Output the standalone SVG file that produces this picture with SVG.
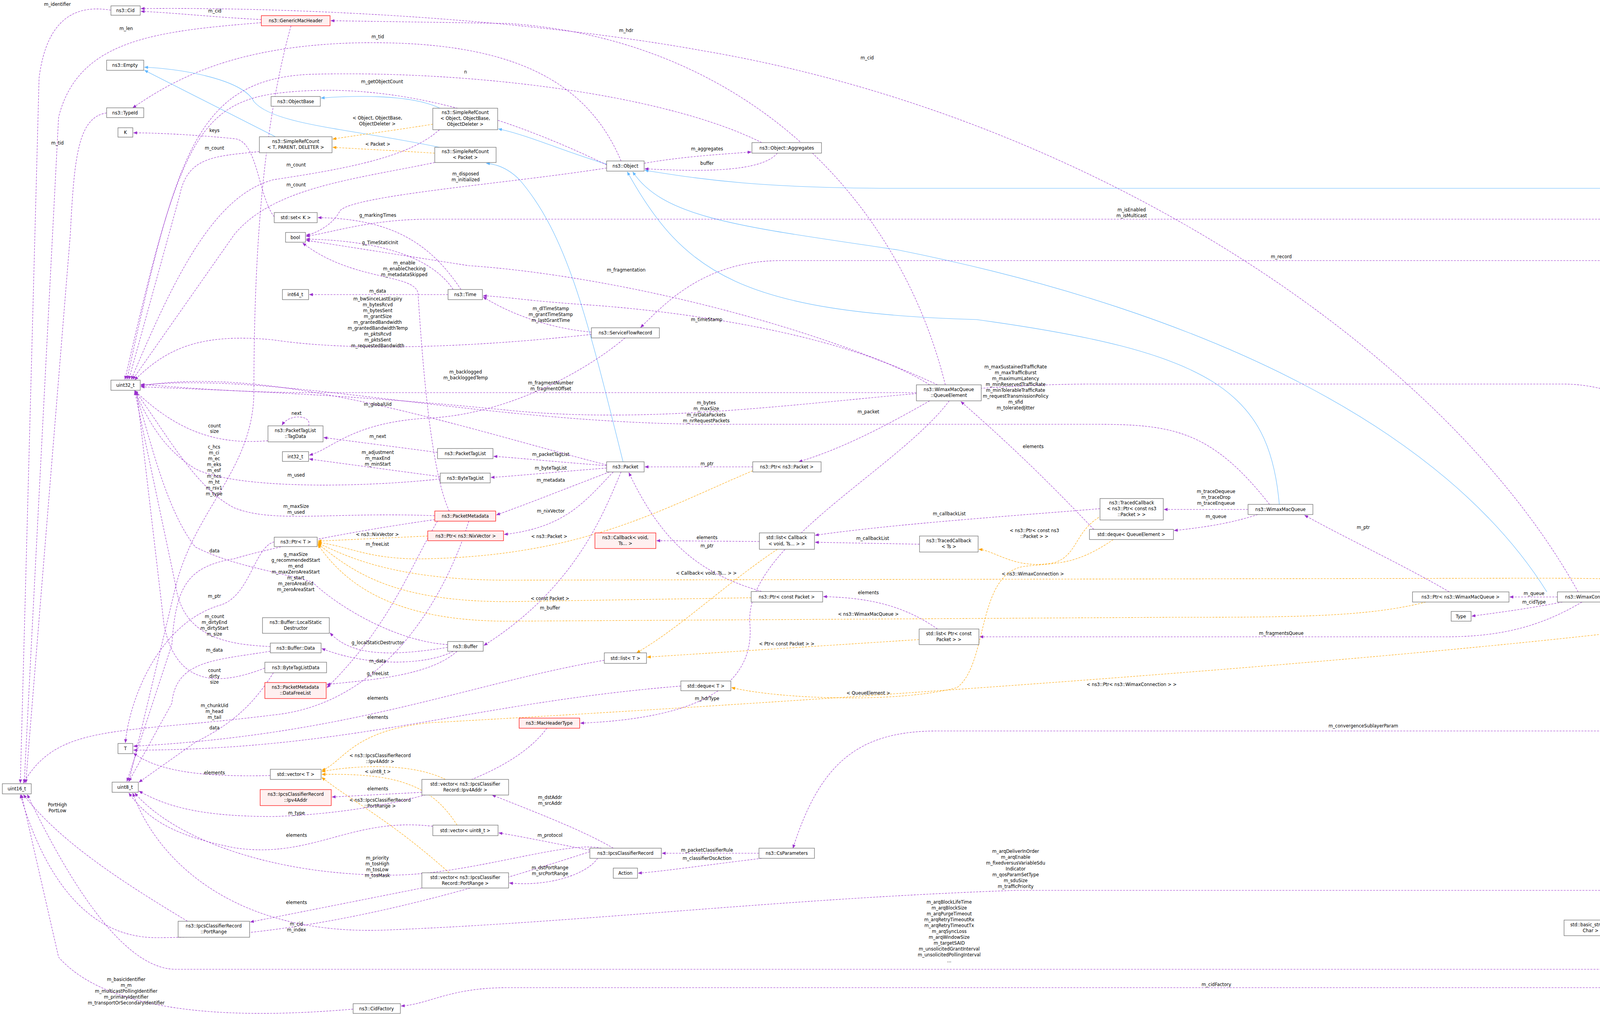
<svg xmlns="http://www.w3.org/2000/svg" width="5315" height="2598" viewBox="0 0 5315 2598">
<style>
text{font-family:"DejaVu Sans","Liberation Sans",sans-serif;font-size:11.5px;fill:#000;text-anchor:middle}
.n rect{fill:#fff;stroke:#666;stroke-width:1.2}
.r rect{fill:#fff0f0;stroke:#f00;stroke-width:1.2}
.g rect{fill:#999;stroke:#666;stroke-width:1.2}
.e{fill:none;stroke:#9a32cd;stroke-width:1.1;stroke-dasharray:5,3;marker-end:url(#mp)}
.i{fill:none;stroke:#63b8ff;stroke-width:1.1;marker-end:url(#mb)}
.t{fill:none;stroke:#ffa500;stroke-width:1.1;stroke-dasharray:5,3;marker-end:url(#mo)}
</style>
<defs>
<marker id="mp" markerWidth="10" markerHeight="8" refX="9" refY="4" orient="auto" markerUnits="userSpaceOnUse"><path d="M0,0L10,4L0,8z" fill="#9a32cd"/></marker>
<marker id="mb" markerWidth="10" markerHeight="8" refX="9" refY="4" orient="auto" markerUnits="userSpaceOnUse"><path d="M0,0L10,4L0,8z" fill="#63b8ff"/></marker>
<marker id="mo" markerWidth="10" markerHeight="8" refX="9" refY="4" orient="auto" markerUnits="userSpaceOnUse"><path d="M0,0L10,4L0,8z" fill="#ffa500"/></marker>
</defs>
<rect width="5315" height="2598" fill="#fff"/>
<g id="edges">
<path class="e" d="M669,50 C560,45 450,33 361,29"/><text x="550" y="32">m_cid</text>
<path class="e" d="M4040,1515 C3700,900 2800,300 1800,130 C1300,40 700,18 361,22"/><text x="2220" y="152">m_cid</text>
<path class="e" d="M2420,985 C2300,500 1900,100 1300,60 L847,53"/><text x="1603" y="82">m_hdr</text>
<path class="e" d="M284,26 C200,12 120,40 100,200 L52,2004"/><text x="147" y="15">m_identifier</text>
<path class="e" d="M669,58 C400,80 200,100 150,300 L62,2004"/><text x="323" y="77">m_len</text>
<path class="e" d="M745,66 C680,300 650,600 650,1000 C650,1200 500,1300 450,1500 L330,2000"/>
<text><tspan x="548" y="1148">c_hcs</tspan><tspan x="548" y="1163">m_ci</tspan><tspan x="548" y="1178">m_ec</tspan><tspan x="548" y="1193">m_eks</tspan><tspan x="548" y="1208">m_esf</tspan><tspan x="548" y="1223">m_hcs</tspan><tspan x="548" y="1238">m_ht</tspan><tspan x="548" y="1253">m_rsv1</tspan><tspan x="548" y="1268">m_type</tspan></text>
<path class="e" d="M1590,412 C1500,200 1300,100 900,110 C600,120 450,200 340,276"/><text x="967" y="98">m_tid</text>
<path class="e" d="M273,289 C200,300 190,400 180,600 L66,2004"/><text x="147" y="370">m_tid</text>
<path class="i" d="M705,350 L370,180"/>
<path class="i" d="M1125,377 C900,330 700,320 650,260 C620,200 450,175 370,172"/>
<path class="i" d="M1126,277 C1050,240 900,245 822,251"/>
<path class="i" d="M1553,420 C1450,390 1350,345 1276,330"/>
<path class="i" d="M1595,1182 C1500,800 1450,600 1330,460 C1300,430 1270,420 1245,418"/>
<path class="i" d="M4850,1611 C4840,900 4760,482 4500,482 L2300,482 C1950,482 1800,460 1651,436"/>
<path class="i" d="M3960,1515 C3700,1100 3100,800 2300,640 C1900,580 1700,560 1620,440"/>
<path class="i" d="M3275,1291 C3250,1000 3100,900 2500,818 C1900,800 1750,700 1606,440"/>
<path class="e" d="M1649,418 C1750,400 1850,395 1923,389"/><text x="1810" y="385">m_aggregates</text>
<path class="e" d="M1990,392 C1950,440 1800,440 1651,432"/><text x="1810" y="422">buffer</text>
<path class="t" d="M1108,318 C1000,335 900,348 852,356"/><text><tspan x="966" y="306">&lt; Object, ObjectBase,</tspan><tspan x="966" y="321">ObjectDeleter &gt;</tspan></text>
<path class="t" d="M1113,392 C1000,385 900,380 852,377"/><text x="967" y="373">&lt; Packet &gt;</text>
<path class="e" d="M664,388 C550,400 480,400 460,500 L330,971"/><text x="549" y="383">m_count</text>
<path class="e" d="M1125,332 C1050,400 900,430 700,460 C550,500 450,700 336,971"/><text x="758" y="426">m_count</text>
<path class="e" d="M1113,416 C900,460 700,480 600,600 L340,971"/><text x="758" y="477">m_count</text>
<path class="e" d="M1553,422 C1300,300 1000,200 700,240 C500,270 450,400 320,971"/><text x="978" y="213">m_getObjectCount</text>
<path class="e" d="M1950,365 C1700,240 1200,180 800,190 C500,200 450,400 325,971"/><text x="1192" y="188">n</text>
<path class="e" d="M702,555 C660,500 660,360 600,355 C500,345 400,340 342,340"/><text x="549" y="338">keys</text>
<path class="e" d="M1180,741 C1100,620 1000,560 814,557"/><text x="967" y="555">g_markingTimes</text>
<path class="e" d="M1160,741 C1100,650 950,615 784,612"/><text x="973" y="625">g_TimeStaticInit</text>
<path class="e" d="M1553,430 C1300,470 900,500 870,540 C850,580 800,600 784,602"/><text><tspan x="1192" y="449">m_disposed</tspan><tspan x="1192" y="464">m_initialized</tspan></text>
<path class="e" d="M4770,1611 C4650,900 4600,561 4400,561 L1100,561 C950,561 850,595 784,605"/><text><tspan x="2897" y="541">m_isEnabled</tspan><tspan x="2897" y="556">m_isMulticast</tspan></text>
<path class="e" d="M1150,1308 C1100,1200 1080,900 1070,750 C1060,700 900,720 775,622"/><text><tspan x="1035" y="677">m_enable</tspan><tspan x="1035" y="692">m_enableChecking</tspan><tspan x="1035" y="707">m_metadataSkipped</tspan></text>
<path class="e" d="M1147,754 L792,754"/><text x="967" y="749">m_data</text>
<path class="e" d="M1514,850 C1400,840 1300,800 1237,760"/><text><tspan x="1410" y="794">m_dlTimeStamp</tspan><tspan x="1410" y="809">m_grantTimeStamp</tspan><tspan x="1410" y="824">m_lastGrantTime</tspan></text>
<path class="e" d="M2380,985 C2200,870 1800,800 1500,780 C1350,770 1300,760 1237,757"/><text x="1809" y="822">m_timeStamp</text>
<path class="e" d="M1514,856 C1200,890 900,900 700,870 C500,850 420,900 345,972"/><text><tspan x="967" y="769">m_bwSinceLastExpiry</tspan><tspan x="967" y="784">m_bytesRcvd</tspan><tspan x="967" y="799">m_bytesSent</tspan><tspan x="967" y="814">m_grantSize</tspan><tspan x="967" y="829">m_grantedBandwidth</tspan><tspan x="967" y="844">m_grantedBandwidthTemp</tspan><tspan x="967" y="859">m_pktsRcvd</tspan><tspan x="967" y="874">m_pktsSent</tspan><tspan x="967" y="889">m_requestedBandwidth</tspan></text>
<path class="e" d="M4800,1611 C4700,1000 4650,667 4300,667 L2000,667 C1800,667 1700,780 1640,838"/><text x="3280" y="661">m_record</text>
<path class="e" d="M2400,985 C2000,800 1500,700 1200,680 L784,615"/><text x="1603" y="695">m_fragmentation</text>
<path class="e" d="M2346,1005 L800,1005 C600,1005 450,990 361,984"/><text><tspan x="1410" y="984">m_fragmentNumber</tspan><tspan x="1410" y="999">m_fragmentOffset</tspan></text>
<path class="e" d="M3250,1291 C3100,1100 3000,1086 2800,1086 L1800,1086 C1200,1080 700,950 361,986"/><text><tspan x="1808" y="1035">m_bytes</tspan><tspan x="1808" y="1050">m_maxSize</tspan><tspan x="1808" y="1066">m_nrDataPackets</tspan><tspan x="1808" y="1081">m_nrRequestPackets</tspan></text>
<path class="e" d="M4760,1611 C4500,1300 4300,983 4000,983 L2800,983 C2300,983 1800,1100 1300,1050 C900,1010 600,1000 361,990"/><text><tspan x="2600" y="943">m_maxSustainedTrafficRate</tspan><tspan x="2600" y="958">m_maxTrafficBurst</tspan><tspan x="2600" y="973">m_maximumLatency</tspan><tspan x="2600" y="988">m_minReservedTrafficRate</tspan><tspan x="2600" y="1003">m_minTolerableTrafficRate</tspan><tspan x="2600" y="1018">m_requestTransmissionPolicy</tspan><tspan x="2600" y="1033">m_sfid</tspan><tspan x="2600" y="1048">m_toleratedJitter</tspan></text>
<path class="e" d="M1600,865 C1500,950 1300,1060 1100,1070 C900,1080 850,1150 792,1165"/><text><tspan x="1192" y="956">m_backlogged</tspan><tspan x="1192" y="971">m_backloggedTemp</tspan></text>
<path class="e" d="M686,1128 C550,1140 450,1100 345,1000"/><text><tspan x="549" y="1094">count</tspan><tspan x="549" y="1108">size</tspan></text>
<path class="e" d="M790,1090 C800,1062 740,1058 722,1088"/><text x="759" y="1062">next</text>
<path class="e" d="M1120,1158 L829,1120"/><text x="967" y="1121">m_next</text>
<path class="e" d="M1127,1220 L792,1175"/><text><tspan x="967" y="1162">m_adjustment</tspan><tspan x="967" y="1177">m_maxEnd</tspan><tspan x="967" y="1192">m_minStart</tspan></text>
<path class="e" d="M1127,1226 C900,1250 600,1250 500,1200 C420,1150 380,1080 345,1000"/><text x="758" y="1220">m_used</text>
<path class="e" d="M1553,1190 C1200,1100 700,930 361,988"/><text x="967" y="1039">m_globalUid</text>
<path class="e" d="M1553,1192 C1400,1180 1300,1170 1264,1168"/><text x="1410" y="1167">m_packetTagList</text>
<path class="e" d="M1553,1198 C1400,1210 1300,1220 1257,1222"/><text x="1410" y="1202">m_byteTagList</text>
<path class="e" d="M1560,1208 C1450,1250 1350,1290 1271,1318"/><text x="1410" y="1233">m_metadata</text>
<path class="e" d="M1570,1208 C1500,1280 1450,1350 1291,1368"/><text x="1410" y="1312">m_nixVector</text>
<path class="e" d="M1590,1208 C1550,1300 1480,1500 1239,1652"/><text x="1408" y="1560">m_buffer</text>
<path class="e" d="M1927,1195 L1651,1195"/><text x="1810" y="1191">m_ptr</text>
<path class="e" d="M2380,1026 C2250,1100 2150,1150 2045,1182"/><text x="2223" y="1058">m_packet</text>
<path class="e" d="M1950,1514 C1800,1470 1700,1400 1610,1210"/><text x="1810" y="1401">m_ptr</text>
<path class="e" d="M1113,1320 C850,1310 700,1340 600,1300 C500,1250 420,1100 345,1000"/><text><tspan x="758" y="1300">m_maxSize</tspan><tspan x="758" y="1315">m_used</tspan></text>
<path class="t" d="M1095,1372 L814,1385"/><text x="966" y="1372">&lt; ns3::NixVector &gt;</text>
<path class="t" d="M1927,1205 C1700,1300 1500,1420 1100,1430 C950,1435 900,1400 814,1388"/><text x="1406" y="1377">&lt; ns3::Packet &gt;</text>
<path class="t" d="M1923,1530 L1300,1540 C1000,1540 900,1460 814,1392"/><text x="1408" y="1536">&lt; const Packet &gt;</text>
<path class="t" d="M3650,1541 C3500,1580 3300,1580 3000,1580 L1300,1590 C1000,1590 880,1490 814,1394"/><text x="2223" y="1576">&lt; ns3::WimaxMacQueue &gt;</text>
<path class="t" d="M4320,1504 C4250,1480 4100,1480 3900,1480 L1300,1485 C1000,1485 880,1420 814,1390"/><text x="2644" y="1473">&lt; ns3::WimaxConnection &gt;</text>
<path class="e" d="M1120,1334 C1050,1450 1000,1600 837,1760"/><text x="966" y="1397">m_freeList</text>
<path class="e" d="M1146,1650 C1000,1640 850,1540 800,1490 C700,1460 600,1450 500,1400 C420,1300 380,1100 345,1000"/><text><tspan x="757" y="1423">g_maxSize</tspan><tspan x="757" y="1438">g_recommendedStart</tspan><tspan x="757" y="1453">m_end</tspan><tspan x="757" y="1468">m_maxZeroAreaStart</tspan><tspan x="757" y="1483">m_start</tspan><tspan x="757" y="1498">m_zeroAreaEnd</tspan><tspan x="757" y="1513">m_zeroAreaStart</tspan></text>
<path class="e" d="M702,1387 C650,1400 640,1530 560,1550 C400,1600 330,1800 321,1901"/><text x="549" y="1530">m_ptr</text>
<path class="e" d="M692,1655 C600,1650 470,1640 450,1500 L345,1002"/><text><tspan x="549" y="1582">m_count</tspan><tspan x="549" y="1597">m_dirtyEnd</tspan><tspan x="549" y="1612">m_dirtyStart</tspan><tspan x="549" y="1627">m_size</tspan></text>
<path class="e" d="M1146,1657 C1000,1680 900,1680 845,1620"/><text x="967" y="1649">g_localStaticDestructor</text>
<path class="e" d="M1160,1667 C1100,1700 950,1710 824,1660"/><text x="967" y="1696">m_data</text>
<path class="e" d="M692,1667 C550,1690 450,1690 440,1800 L330,2000"/><text x="549" y="1668">m_data</text>
<path class="e" d="M1170,1667 C1100,1730 950,1740 837,1752"/><text x="967" y="1728">g_freeList</text>
<path class="e" d="M678,1710 C550,1760 450,1750 420,1600 L350,1002"/><text><tspan x="549" y="1720">count</tspan><tspan x="549" y="1735">dirty</tspan><tspan x="549" y="1750">size</tspan></text>
<path class="e" d="M1200,1334 C1150,1500 1000,1800 700,1830 C300,1880 150,1850 60,2004"/><text><tspan x="549" y="1810">m_chunkUid</tspan><tspan x="549" y="1825">m_head</tspan><tspan x="549" y="1840">m_tail</tspan></text>
<path class="e" d="M700,1722 C650,1800 600,1850 500,1900 L356,2002"/><text x="549" y="1867">data</text>
<path class="e" d="M1113,1330 C900,1360 700,1400 600,1430 C480,1450 450,1500 440,1650 L325,2000"/><text x="549" y="1414">data</text>
<path class="e" d="M1547,1690 C1200,1750 900,1880 342,1910"/><text x="967" y="1791">elements</text>
<path class="e" d="M1743,1756 C1200,1800 900,1920 342,1920"/><text x="967" y="1840">elements</text>
<path class="e" d="M692,1985 C500,1990 400,1970 342,1928"/><text x="549" y="1982">elements</text>
<path class="e" d="M1080,2028 L850,2040"/><text x="967" y="2023">elements</text>
<path class="e" d="M1108,2115 C900,2090 800,2200 600,2170 C450,2140 380,2100 330,2030"/><text x="759" y="2142">elements</text>
<path class="e" d="M1080,2273 L641,2360"/><text x="759" y="2314">elements</text>
<path class="t" d="M1140,1995 C1050,1950 900,1960 824,1975"/><text><tspan x="973" y="1938">&lt; ns3::IpcsClassifierRecord</tspan><tspan x="973" y="1953">::Ipv4Addr &gt;</tspan></text>
<path class="t" d="M1170,2112 C1100,2000 1000,1980 824,1982"/><text x="967" y="1979">&lt; uint8_t &gt;</text>
<path class="t" d="M1150,2234 C1000,2100 900,2050 824,1990"/><text><tspan x="973" y="2052">&lt; ns3::IpcsClassifierRecord</tspan><tspan x="973" y="2067">::PortRange &gt;</tspan></text>
<path class="t" d="M4720,1384 C4600,1500 4500,1600 4300,1600 C3500,1700 2000,1800 1100,1850 C900,1870 880,1950 824,1972"/><text x="2897" y="1756">&lt; ns3::Ptr&lt; ns3::WimaxConnection &gt; &gt;</text>
<path class="e" d="M1400,1864 C1300,2000 1000,2080 700,2090 C500,2090 420,2060 356,2025"/><text x="759" y="2085">m_type</text>
<path class="e" d="M1540,2171 C1450,2150 1200,2240 1000,2240 C700,2240 450,2150 345,2030"/><text><tspan x="966" y="2200">m_priority</tspan><tspan x="966" y="2215">m_tosHigh</tspan><tspan x="966" y="2230">m_tosLow</tspan><tspan x="966" y="2245">m_tosMask</tspan></text>
<path class="e" d="M480,2358 C300,2250 150,2150 60,2034"/><text><tspan x="147" y="2064">PortHigh</tspan><tspan x="147" y="2079">PortLow</tspan></text>
<path class="e" d="M1510,2180 C1200,2280 800,2400 400,2400 C200,2400 100,2200 52,2034"/><text><tspan x="759" y="2369">m_cid</tspan><tspan x="759" y="2384">m_index</tspan></text>
<path class="e" d="M1570,2171 C1500,2130 1400,2090 1260,2035"/><text><tspan x="1408" y="2045">m_dstAddr</tspan><tspan x="1408" y="2060">m_srcAddr</tspan></text>
<path class="e" d="M1510,2176 C1400,2155 1330,2140 1277,2132"/><text x="1408" y="2142">m_protocol</text>
<path class="e" d="M1530,2197 C1500,2240 1400,2270 1304,2260"/><text><tspan x="1408" y="2225">m_dstPortRange</tspan><tspan x="1408" y="2240">m_srcPortRange</tspan></text>
<path class="e" d="M1943,2184 L1695,2184"/><text x="1810" y="2180">m_packetClassifierRule</text>
<path class="e" d="M1950,2197 C1800,2215 1700,2230 1634,2235"/><text x="1810" y="2201">m_classifierDscAction</text>
<path class="e" d="M4800,1637 C4700,1900 4600,1871 4400,1871 L2400,1871 C2200,1871 2100,1950 2030,2171"/><text x="3490" y="1862">m_convergenceSublayerParam</text>
<path class="e" d="M4810,1637 C4750,2000 4600,2279 4400,2279 L2600,2279 C2000,2300 1500,2360 1000,2380 C600,2400 400,2200 340,2030"/><text><tspan x="2600" y="2183">m_arqDeliverInOrder</tspan><tspan x="2600" y="2198">m_arqEnable</tspan><tspan x="2600" y="2213">m_fixedversusVariableSdu</tspan><tspan x="2600" y="2228">Indicator</tspan><tspan x="2600" y="2243">m_qosParamSetType</tspan><tspan x="2600" y="2258">m_sduSize</tspan><tspan x="2600" y="2273">m_trafficPriority</tspan></text>
<path class="e" d="M4820,1637 C4780,2200 4700,2481 4400,2481 L450,2481 C300,2481 150,2200 70,2034"/><text><tspan x="2430" y="2313">m_arqBlockLifeTime</tspan><tspan x="2430" y="2328">m_arqBlockSize</tspan><tspan x="2430" y="2343">m_arqPurgeTimeout</tspan><tspan x="2430" y="2358">m_arqRetryTimeoutRx</tspan><tspan x="2430" y="2373">m_arqRetryTimeoutTx</tspan><tspan x="2430" y="2388">m_arqSyncLoss</tspan><tspan x="2430" y="2403">m_arqWindowSize</tspan><tspan x="2430" y="2418">m_targetSAID</tspan><tspan x="2430" y="2433">m_unsolicitedGrantInterval</tspan><tspan x="2430" y="2448">m_unsolicitedPollingInterval</tspan><tspan x="2430" y="2463">...</tspan></text>
<path class="e" d="M5200,1376 C5150,2000 5100,2528 4800,2528 L1300,2528 C1150,2528 1100,2570 1027,2575"/><text x="3114" y="2524">m_cidFactory</text>
<path class="e" d="M904,2583 C700,2600 300,2620 150,2450 L55,2034"/><text><tspan x="323" y="2511">m_basicIdentifier</tspan><tspan x="323" y="2526">m_m</tspan><tspan x="323" y="2541">m_multicastPollingIdentifier</tspan><tspan x="323" y="2556">m_primaryIdentifier</tspan><tspan x="323" y="2571">m_transportOrSecondaryIdentifier</tspan></text>
<path class="e" d="M5125,1363 L4916,1363"/><text><tspan x="5018" y="1306">m_basicConnections</tspan><tspan x="5018" y="1321">m_multicastConnections</tspan><tspan x="5018" y="1336">m_primaryConnections</tspan><tspan x="5018" y="1351">m_transportConnections</tspan></text>
<path class="e" d="M4740,1344 C4700,1300 4500,1300 4380,1502"/><text x="4600" y="1318">elements</text>
<path class="e" d="M4250,1518 L4161,1525"/><text x="4207" y="1515">m_ptr</text>
<path class="e" d="M3987,1528 L3865,1528"/><text x="3927" y="1523">m_queue</text>
<path class="e" d="M4000,1541 C3900,1560 3820,1570 3768,1577"/><text x="3927" y="1545">m_cidType</text>
<path class="e" d="M3710,1515 C3600,1450 3450,1380 3340,1319"/><text x="3490" y="1354">m_ptr</text>
<path class="e" d="M4150,1541 C4400,1580 4600,1610 4737,1620"/><text x="4377" y="1552">m_serviceFlow</text>
<path class="e" d="M4050,1541 C3950,1600 3850,1630 3700,1630 L2508,1630"/><text x="3280" y="1625">m_fragmentsQueue</text>
<path class="e" d="M4800,1611 C4750,1550 4650,1520 4502,1517"/><text x="4600" y="1515">m_connection</text>
<path class="e" d="M4790,1611 C4750,1450 4600,1363 4402,1363"/><text x="4600" y="1367">m_type</text>
<path class="e" d="M4780,1611 C4700,1300 4550,1280 4418,1295"/><text x="4600" y="1277">m_direction</text>
<path class="e" d="M4739,1632 L4438,1680"/><text x="4600" y="1637">m_modulationType</text>
<path class="e" d="M4790,1637 C4760,2200 4650,2390 4419,2372"/><text x="4600" y="2347">m_serviceClassName</text>
<path class="e" d="M4800,1637 C4770,2300 4650,2440 4438,2420"/><text x="4600" y="2409">m_schedulingType</text>
<path class="e" d="M4810,1637 C4780,2350 4660,2500 4420,2478"/><text x="4600" y="2449">m_csSpecification</text>
<path class="i" d="M4333,2367 L4143,2372"/>
<path class="e" d="M3195,1304 L2980,1304"/><text><tspan x="3113" y="1262">m_traceDequeue</tspan><tspan x="3113" y="1277">m_traceDrop</tspan><tspan x="3113" y="1292">m_traceEnqueue</tspan></text>
<path class="e" d="M3220,1317 C3150,1340 3080,1350 3006,1358"/><text x="3113" y="1326">m_queue</text>
<path class="e" d="M2800,1355 C2700,1250 2600,1150 2460,1028"/><text x="2645" y="1147">elements</text>
<path class="e" d="M2816,1302 C2600,1320 2300,1340 2087,1370"/><text x="2430" y="1319">m_callbackList</text>
<path class="e" d="M2354,1393 L2087,1388"/><text x="2234" y="1382">m_callbackList</text>
<path class="e" d="M1944,1386 L1681,1384"/><text x="1810" y="1380">elements</text>
<path class="t" d="M2820,1320 C2750,1360 2760,1420 2700,1440 C2600,1460 2550,1410 2506,1406"/><text><tspan x="2648" y="1362">&lt; ns3::Ptr&lt; const ns3</tspan><tspan x="2648" y="1377">::Packet &gt; &gt;</tspan></text>
<path class="t" d="M2850,1381 C2750,1450 2700,1440 2620,1450 C2500,1470 2530,1700 2450,1760 C2300,1800 2000,1790 1873,1760"/><text x="2223" y="1778">&lt; QueueElement &gt;</text>
<path class="t" d="M2353,1637 L1657,1682"/><text x="2014" y="1652">&lt; Ptr&lt; const Packet &gt; &gt;</text>
<path class="t" d="M1990,1406 C1850,1500 1750,1600 1630,1671"/><text x="1808" y="1471">&lt; Callback&lt; void, Ts... &gt; &gt;</text>
<path class="e" d="M2400,1610 C2300,1540 2200,1530 2108,1527"/><text x="2223" y="1521">elements</text>
<path class="e" d="M2430,1026 C2300,1200 1900,1400 1920,1600 C1930,1750 1800,1838 1486,1851"/><text x="1810" y="1792">m_hdrType</text>
</g>
<g id="n_cid" class="n"><rect x="284" y="15" width="75" height="24"/><text x="321" y="31">ns3::Cid</text></g>
<g id="n_gmh" class="r"><rect x="669" y="40" width="176" height="26"/><text x="757" y="57">ns3::GenericMacHeader</text></g>
<g id="n_empty" class="n"><rect x="273" y="154" width="95" height="26"/><text x="320" y="171">ns3::Empty</text></g>
<g id="n_objbase" class="n"><rect x="694" y="247" width="126" height="25"/><text x="757" y="264">ns3::ObjectBase</text></g>
<g id="n_srcobj" class="n"><rect x="1108" y="277" width="166" height="55"/><text><tspan x="1191" y="292">ns3::SimpleRefCount</tspan><tspan x="1191" y="307">&lt; Object, ObjectBase,</tspan><tspan x="1191" y="322">ObjectDeleter &gt;</tspan></text></g>
<g id="n_typeid" class="n"><rect x="273" y="276" width="95" height="25"/><text x="320" y="293">ns3::TypeId</text></g>
<g id="n_k" class="n"><rect x="302" y="327" width="38" height="24"/><text x="321" y="343">K</text></g>
<g id="n_srct" class="n"><rect x="664" y="350" width="186" height="41"/><text><tspan x="757" y="366">ns3::SimpleRefCount</tspan><tspan x="757" y="381">&lt; T, PARENT, DELETER &gt;</tspan></text></g>
<g id="n_srcp" class="n"><rect x="1113" y="377" width="157" height="39"/><text><tspan x="1191" y="392">ns3::SimpleRefCount</tspan><tspan x="1191" y="407">&lt; Packet &gt;</tspan></text></g>
<g id="n_setk" class="n"><rect x="702" y="544" width="110" height="26"/><text x="757" y="561">std::set&lt; K &gt;</text></g>
<g id="n_bool" class="n"><rect x="731" y="595" width="51" height="25"/><text x="756" y="612">bool</text></g>
<g id="n_int64" class="n"><rect x="723" y="741" width="67" height="26"/><text x="756" y="758">int64_t</text></g>
<g id="n_time" class="n"><rect x="1147" y="741" width="88" height="26"/><text x="1191" y="758">ns3::Time</text></g>
<g id="n_uint32" class="n"><rect x="284" y="973" width="75" height="26"/><text x="321" y="990">uint32_t</text></g>
<g id="n_tagdata" class="n"><rect x="686" y="1090" width="141" height="41"/><text><tspan x="756" y="1106">ns3::PacketTagList</tspan><tspan x="756" y="1121">::TagData</tspan></text></g>
<g id="n_int32" class="n"><rect x="723" y="1156" width="67" height="25"/><text x="756" y="1173">int32_t</text></g>
<g id="n_ptl" class="n"><rect x="1120" y="1148" width="142" height="26"/><text x="1191" y="1165">ns3::PacketTagList</text></g>
<g id="n_btl" class="n"><rect x="1127" y="1211" width="128" height="25"/><text x="1191" y="1228">ns3::ByteTagList</text></g>
<g id="n_object" class="n"><rect x="1553" y="412" width="96" height="26"/><text x="1601" y="429">ns3::Object</text></g>
<g id="n_aggr" class="n"><rect x="1925" y="365" width="178" height="27"/><text x="2014" y="383">ns3::Object::Aggregates</text></g>
<g id="n_sfr" class="n"><rect x="1514" y="839" width="174" height="26"/><text x="1601" y="856">ns3::ServiceFlowRecord</text></g>
<g id="n_qe" class="n"><rect x="2346" y="985" width="166" height="41"/><text><tspan x="2429" y="1001">ns3::WimaxMacQueue</tspan><tspan x="2429" y="1016">::QueueElement</tspan></text></g>
<g id="n_packet" class="n"><rect x="1553" y="1182" width="96" height="26"/><text x="1601" y="1199">ns3::Packet</text></g>
<g id="n_ptrpacket" class="n"><rect x="1927" y="1182" width="175" height="26"/><text x="2014" y="1199">ns3::Ptr&lt; ns3::Packet &gt;</text></g>
<g id="n_pm" class="r"><rect x="1113" y="1308" width="156" height="26"/><text x="1191" y="1325">ns3::PacketMetadata</text></g>
<g id="n_ptrt" class="n"><rect x="702" y="1375" width="110" height="24"/><text x="757" y="1391">ns3::Ptr&lt; T &gt;</text></g>
<g id="n_ptrnix" class="r"><rect x="1095" y="1359" width="194" height="25"/><text x="1192" y="1376">ns3::Ptr&lt; ns3::NixVector &gt;</text></g>
<g id="n_lsd" class="n"><rect x="672" y="1581" width="171" height="40"/><text><tspan x="757" y="1597">ns3::Buffer::LocalStatic</tspan><tspan x="757" y="1612">Destructor</tspan></text></g>
<g id="n_buffer" class="n"><rect x="1146" y="1642" width="91" height="25"/><text x="1191" y="1659">ns3::Buffer</text></g>
<g id="n_bufdata" class="n"><rect x="692" y="1646" width="130" height="25"/><text x="757" y="1663">ns3::Buffer::Data</text></g>
<g id="n_btld" class="n"><rect x="678" y="1695" width="158" height="27"/><text x="757" y="1713">ns3::ByteTagListData</text></g>
<g id="n_dfl" class="r"><rect x="678" y="1747" width="157" height="41"/><text><tspan x="756" y="1763">ns3::PacketMetadata</tspan><tspan x="756" y="1778">::DataFreeList</tspan></text></g>
<g id="n_t" class="n"><rect x="302" y="1903" width="38" height="26"/><text x="321" y="1920">T</text></g>
<g id="n_uint16" class="n"><rect x="6" y="2006" width="74" height="26"/><text x="43" y="2023">uint16_t</text></g>
<g id="n_uint8" class="n"><rect x="287" y="2002" width="67" height="26"/><text x="320" y="2019">uint8_t</text></g>
<g id="n_vect" class="n"><rect x="692" y="1969" width="130" height="26"/><text x="757" y="1986">std::vector&lt; T &gt;</text></g>
<g id="n_ipv4" class="r"><rect x="666" y="2021" width="182" height="41"/><text><tspan x="757" y="2037">ns3::IpcsClassifierRecord</tspan><tspan x="757" y="2052">::Ipv4Addr</tspan></text></g>
<g id="n_vecipv4" class="n"><rect x="1080" y="1995" width="222" height="40"/><text><tspan x="1191" y="2011">std::vector&lt; ns3::IpcsClassifier</tspan><tspan x="1191" y="2026">Record::Ipv4Addr &gt;</tspan></text></g>
<g id="n_vecu8" class="n"><rect x="1108" y="2112" width="167" height="27"/><text x="1191" y="2130">std::vector&lt; uint8_t &gt;</text></g>
<g id="n_vecpr" class="n"><rect x="1080" y="2234" width="222" height="39"/><text><tspan x="1191" y="2250">std::vector&lt; ns3::IpcsClassifier</tspan><tspan x="1191" y="2265">Record::PortRange &gt;</tspan></text></g>
<g id="n_portrange" class="n"><rect x="456" y="2358" width="183" height="41"/><text><tspan x="547" y="2374">ns3::IpcsClassifierRecord</tspan><tspan x="547" y="2389">::PortRange</tspan></text></g>
<g id="n_cidfactory" class="n"><rect x="904" y="2569" width="121" height="25"/><text x="964" y="2586">ns3::CidFactory</text></g>
<g id="n_callback" class="r"><rect x="1523" y="1364" width="156" height="40"/><text><tspan x="1601" y="1380">ns3::Callback&lt; void,</tspan><tspan x="1601" y="1395">Ts... &gt;</tspan></text></g>
<g id="n_listcb" class="n"><rect x="1944" y="1364" width="141" height="42"/><text><tspan x="2014" y="1380">std::list&lt; Callback</tspan><tspan x="2014" y="1396">&lt; void, Ts... &gt; &gt;</tspan></text></g>
<g id="n_tcts" class="n"><rect x="2354" y="1372" width="150" height="41"/><text><tspan x="2429" y="1388">ns3::TracedCallback</tspan><tspan x="2429" y="1403">&lt; Ts &gt;</tspan></text></g>
<g id="n_ptrcp" class="n"><rect x="1923" y="1514" width="183" height="27"/><text x="2014" y="1532">ns3::Ptr&lt; const Packet &gt;</text></g>
<g id="n_listpcp" class="n"><rect x="2353" y="1610" width="153" height="40"/><text><tspan x="2429" y="1626">std::list&lt; Ptr&lt; const</tspan><tspan x="2429" y="1641">Packet &gt; &gt;</tspan></text></g>
<g id="n_listt" class="n"><rect x="1547" y="1671" width="108" height="27"/><text x="1601" y="1689">std::list&lt; T &gt;</text></g>
<g id="n_dequet" class="n"><rect x="1743" y="1743" width="128" height="25"/><text x="1807" y="1760">std::deque&lt; T &gt;</text></g>
<g id="n_mht" class="r"><rect x="1329" y="1838" width="155" height="26"/><text x="1406" y="1855">ns3::MacHeaderType</text></g>
<g id="n_icr" class="n"><rect x="1510" y="2171" width="183" height="26"/><text x="1601" y="2188">ns3::IpcsClassifierRecord</text></g>
<g id="n_action" class="n"><rect x="1570" y="2222" width="62" height="26"/><text x="1601" y="2239">Action</text></g>
<g id="n_csparams" class="n"><rect x="1943" y="2171" width="142" height="26"/><text x="2014" y="2188">ns3::CsParameters</text></g>
<g id="n_tcp" class="n"><rect x="2816" y="1276" width="162" height="55"/><text><tspan x="2897" y="1291">ns3::TracedCallback</tspan><tspan x="2897" y="1306">&lt; ns3::Ptr&lt; const ns3</tspan><tspan x="2897" y="1321">::Packet &gt; &gt;</tspan></text></g>
<g id="n_wmq" class="n"><rect x="3195" y="1291" width="166" height="26"/><text x="3278" y="1308">ns3::WimaxMacQueue</text></g>
<g id="n_dequeqe" class="n"><rect x="2789" y="1355" width="215" height="26"/><text x="2896" y="1372">std::deque&lt; QueueElement &gt;</text></g>
<g id="n_ptrwmq" class="n"><rect x="3616" y="1515" width="247" height="26"/><text x="3739" y="1532">ns3::Ptr&lt; ns3::WimaxMacQueue &gt;</text></g>
<g id="n_wc" class="n"><rect x="3987" y="1515" width="172" height="26"/><text x="4073" y="1532">ns3::WimaxConnection</text></g>
<g id="n_type2" class="n"><rect x="3715" y="1565" width="51" height="25"/><text x="3740" y="1582">Type</text></g>
<g id="n_ptrwc" class="n"><rect x="4250" y="1504" width="250" height="25"/><text x="4375" y="1521">ns3::Ptr&lt; ns3::WimaxConnection &gt;</text></g>
<g id="n_type1" class="n"><rect x="4350" y="1350" width="50" height="26"/><text x="4375" y="1367">Type</text></g>
<g id="n_vecpwc" class="n"><rect x="4695" y="1344" width="219" height="40"/><text><tspan x="4804" y="1360">std::vector&lt; ns3::Ptr</tspan><tspan x="4804" y="1375">&lt; ns3::WimaxConnection &gt; &gt;</tspan></text></g>
<g id="n_cm" class="g"><rect x="5125" y="1350" width="181" height="26"/><text x="5215" y="1367">ns3::ConnectionManager</text></g>
<g id="n_sf" class="n"><rect x="4739" y="1611" width="130" height="26"/><text x="4804" y="1628">ns3::ServiceFlow</text></g>
<g id="n_modtype" class="n"><rect x="4314" y="1667" width="122" height="25"/><text x="4375" y="1684">ModulationType</text></g>
<g id="n_basicstr" class="n"><rect x="4004" y="2355" width="137" height="40"/><text><tspan x="4072" y="2371">std::basic_string&lt;</tspan><tspan x="4072" y="2386">Char &gt;</tspan></text></g>
<g id="n_string" class="n"><rect x="4333" y="2355" width="84" height="25"/><text x="4375" y="2372">std::string</text></g>
<g id="n_sched" class="n"><rect x="4316" y="2405" width="120" height="24"/><text x="4376" y="2421">SchedulingType</text></g>
<g id="n_csspec" class="n"><rect x="4316" y="2453" width="120" height="25"/><text x="4376" y="2470">CsSpecification</text></g>
<g id="n_direction" class="n"><rect x="4335" y="1284" width="81" height="26"/><text x="4375" y="1301">Direction</text></g>
</svg>
